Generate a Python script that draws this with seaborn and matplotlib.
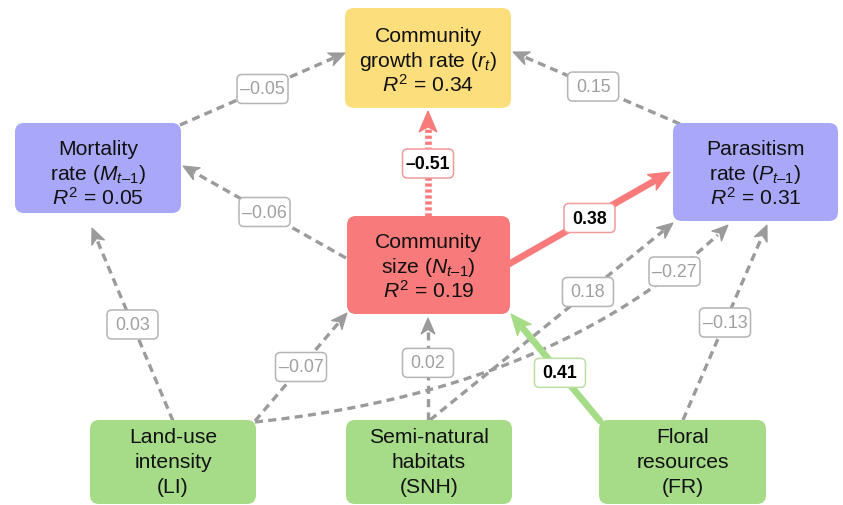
import numpy as np
import matplotlib
matplotlib.use("Agg")
import matplotlib.pyplot as plt
from matplotlib.patches import FancyBboxPatch, Polygon
import seaborn as sns

sns.set_theme(style="white")
plt.rcParams.update({
    "font.family": ["Liberation Sans", "DejaVu Sans"],
    "mathtext.fontset": "custom",
    "mathtext.rm": "Liberation Sans",
    "mathtext.it": "Liberation Sans:italic",
    "mathtext.bf": "Liberation Sans:bold",
    "lines.scale_dashes": False,
})

# ---- model content -------------------------------------------------------
node_ids = ["growth", "mort", "para", "size", "li", "snh", "fr"]
node_title = ["Community", "Mortality", "Parasitism", "Community",
              "Land-use", "Semi-natural", "Floral"]
node_sub = ["growth rate ($r_t$)", "rate ($M_{t\u20131}$)",
            "rate ($P_{t\u20131}$)", "size ($N_{t\u20131}$)",
            "intensity", "habitats", "resources"]
node_r2 = [0.34, 0.05, 0.31, 0.19, None, None, None]
node_abbr = [None, None, None, None, "(LI)", "(SNH)", "(FR)"]

edge_from = ["mort", "para", "size", "size", "size", "li", "li", "li",
             "snh", "snh", "fr", "fr"]
edge_to = ["growth", "growth", "growth", "mort", "para", "mort", "size",
           "para", "size", "para", "para", "size"]
edge_coef = [-0.05, 0.15, -0.51, -0.06, 0.38, 0.03, -0.07, -0.27,
             0.02, 0.18, -0.13, 0.41]
edge_signif = [False, False, True, False, True, False, False, False,
               False, False, False, True]

# ---- layout (pixel space of the canvas) ----------------------------------
W, H = 843, 505
node_box = {  # x0, y0, x1, y1
    "growth": (345, 8, 511, 108),
    "mort": (15, 123, 181, 213),
    "para": (673, 123, 838, 221),
    "size": (347, 216, 510, 314),
    "li": (90, 420, 256, 504),
    "snh": (346, 420, 512, 504),
    "fr": (599, 420, 766, 504),
}
node_text_mid = {"growth": 60, "mort": 173, "para": 173, "size": 266,
                 "li": 461, "snh": 461, "fr": 461}
node_color = {"growth": "#FCDF7C", "mort": "#A9A8F8", "para": "#A9A8F8",
              "size": "#F87A7A", "li": "#A6DB88", "snh": "#A6DB88",
              "fr": "#A6DB88"}

# start point, tip point, optional bezier control, label position fraction
edge_geom = [
    ((180, 125), (345, 53), None, 0.50),
    ((680, 124), (513, 52), None, 0.52),
    ((428, 216), (428, 111), None, 0.50),
    ((346, 258), (183, 166), None, 0.50),
    ((509, 264), (670, 172), None, 0.50),
    ((173, 421), (92, 228), None, 0.50),
    ((255, 421), (347, 313), None, 0.50),
    ((255, 422), (728, 225), (560, 390), 0.85),
    ((428, 420), (428, 318), None, 0.56),
    ((430, 420), (673, 223), None, 0.65),
    ((683, 420), (767, 225), None, 0.50),
    ((600, 421), (511, 314), None, 0.45),
]

GRAY_LINE = "#9B9B9B"
GRAY_TEXT = "#A0A0A0"
GRAY_EDGE = "#B4B4B4"
LINE_EDGE_LIGHT = {"size": "#F29A9A", "fr": "#B9DFA3"}

fig = plt.figure(figsize=(W / 100, H / 100), dpi=100)
ax = fig.add_axes([0, 0, 1, 1])


def curve_points(p0, p1, ctrl, n=200):
    t = np.linspace(0, 1, n)[:, None]
    p0, p1 = np.array(p0, float), np.array(p1, float)
    if ctrl is None:
        return p0 + t * (p1 - p0)
    c = np.array(ctrl, float)
    return (1 - t) ** 2 * p0 + 2 * t * (1 - t) * c + t ** 2 * p1


def arrow_head(tip, direction, length, half_w, notch, color):
    tip = np.array(tip, float)
    u = direction / np.linalg.norm(direction)
    nrm = np.array([-u[1], u[0]])
    pts = [tip,
           tip - length * u + half_w * nrm,
           tip - (length - notch) * u,
           tip - length * u - half_w * nrm]
    ax.add_patch(Polygon(pts, closed=True, fc=color, ec=color, lw=0.8,
                         zorder=4, joinstyle="miter"))


for src, dst, coef, sig, (p0, p1, ctrl, tl) in zip(
        edge_from, edge_to, edge_coef, edge_signif, edge_geom):
    pts = curve_points(p0, p1, ctrl)
    ref = np.array(ctrl if ctrl is not None else p0, float)
    direction = np.array(p1, float) - ref
    if sig:
        color = node_color[src]
        lw = 4.8
        head = (21, 9, 5)
        style = "-" if coef > 0 else (0, (2.3, 2.0))
    else:
        color = GRAY_LINE
        lw = 2.4
        head = (16, 7, 4.5)
        style = (0, (5.8, 3.8))
    # trim the line under the arrowhead
    dist = np.linalg.norm(pts - np.array(p1, float), axis=1)
    keep = dist > head[0] * 0.75
    seg = pts[keep]
    sns.lineplot(x=seg[:, 0], y=seg[:, 1], sort=False, estimator=None,
                 color=color, linewidth=lw, linestyle=style, ax=ax,
                 zorder=2)
    arrow_head(p1, direction, *head, color)

    # coefficient label
    lp = curve_points(p0, p1, ctrl, n=1001)[int(round(tl * 1000))]
    txt = f"{abs(coef):.2f}"
    if coef < 0:
        txt = "\u2013" + txt
    bw, bh = 51, 29
    if sig:
        ec = LINE_EDGE_LIGHT[src]
        tc, fw = "black", "bold"
    else:
        ec, tc, fw = GRAY_EDGE, GRAY_TEXT, "normal"
    ax.add_patch(FancyBboxPatch((lp[0] - bw / 2, lp[1] - bh / 2), bw, bh,
                                boxstyle="round,pad=0,rounding_size=5",
                                fc="white", ec=ec, lw=1.1, zorder=5))
    ax.text(lp[0], lp[1] + 1, txt, ha="center", va="center", fontsize=12.8,
            color=tc, fontweight=fw, zorder=6)

# nodes
for i, nid in enumerate(node_ids):
    x0, y0, x1, y1 = node_box[nid]
    ax.add_patch(FancyBboxPatch((x0, y0), x1 - x0, y1 - y0,
                                boxstyle="round,pad=0,rounding_size=9",
                                fc=node_color[nid], ec="none", zorder=3))
    third = (f"$R^2$ = {node_r2[i]:.2f}" if node_r2[i] is not None
             else node_abbr[i])
    lines = [node_title[i], node_sub[i], third]
    cx = (x0 + x1) / 2
    mid = node_text_mid[nid]
    for k, s in enumerate(lines):
        base = mid - 18 + 25 * k
        ax.text(cx, base, s, ha="center", va="baseline", fontsize=15.2,
                color="#111111", zorder=6)

ax.set_xlim(0, W)
ax.set_ylim(H, 0)
ax.axis("off")
fig.savefig("out.png", dpi=100, facecolor="white")
